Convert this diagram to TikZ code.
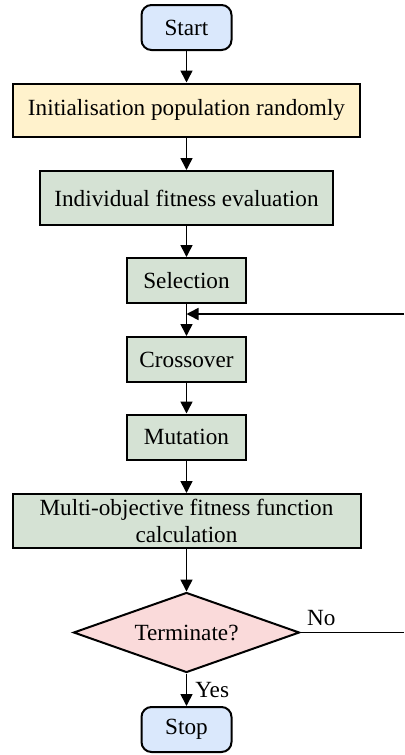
\documentclass[tikz,border=0pt]{standalone}
\usepackage{fontspec}
\setmainfont{Liberation Serif}
\usetikzlibrary{shapes.geometric,arrows.meta}
\definecolor{termblue}{HTML}{DAE8FC}
\definecolor{inityellow}{HTML}{FFF2CC}
\definecolor{stepgreen}{HTML}{D5E2D4}
\definecolor{decpink}{HTML}{FADADA}
\tikzset{
  base/.style={draw=black,line width=1pt,font=\fontsize{11.6}{13.3}\selectfont,inner sep=1pt,align=center},
  term/.style={base,fill=termblue,rounded corners=5pt,minimum width=45pt,minimum height=22.5pt},
  stepbox/.style={base,fill=stepgreen,minimum height=27pt},
  decision/.style={base,diamond,aspect=2.8,fill=decpink,minimum width=113pt,minimum height=40pt,inner sep=0pt},
  flow/.style={line width=0.8pt,-{Triangle[length=6pt,width=6pt]}},
  lbl/.style={font=\fontsize{11.6}{13.3}\selectfont,inner sep=1pt}
}

\begin{document}
\begin{tikzpicture}[x=0.5pt,y=-0.5pt]
			\useasboundingbox (0,0) rectangle (404,755);
			\node[term] (start) at (186.5,27.5) {Start};
			\node[base,fill=inityellow,minimum width=173.5pt,minimum height=26.5pt] (init) at (186.5,110) {Initialisation population randomly};
			\node[stepbox,minimum width=146.5pt] (eval) at (186.5,198) {Individual fitness evaluation};
			\node[stepbox,minimum width=59.5pt,minimum height=22.5pt] (select) at (186.5,280.5) {Selection};
			\node[stepbox,minimum width=59.5pt,minimum height=22.5pt] (cross) at (186.5,359.5) {Crossover};
			\node[stepbox,minimum width=59.5pt,minimum height=22.5pt] (mutate) at (186.5,437) {Mutation};
			\node[stepbox,minimum width=174pt] (multi) at (186.5,521) {Multi-objective fitness function\\calculation};
			\node[decision] (term) at (186.5,632.5) {Terminate?};
			\node[term] (stop) at (186.5,729.5) {Stop};
			\coordinate (merge) at (186.5,314);
			\coordinate (loopin) at (404,314);
			\coordinate (loopout) at (404,632.5);
			\draw[flow] (start) -- (init);
			\draw[flow] (init) -- (eval);
			\draw[flow] (eval) -- (select);
			\draw[flow] (select) -- (cross);
			\draw[flow] (cross) -- (mutate);
			\draw[flow] (mutate) -- (multi);
			\draw[flow] (multi) -- (term);
			\draw[flow] (term) -- node[lbl,right=3pt] {Yes} (stop);
			\draw[line width=0.8pt] (term.east) -- node[lbl,pos=0.2,above=2pt] {No} (loopout);
			\draw[flow] (loopin) -- (merge);
		\end{tikzpicture}
\end{document}
